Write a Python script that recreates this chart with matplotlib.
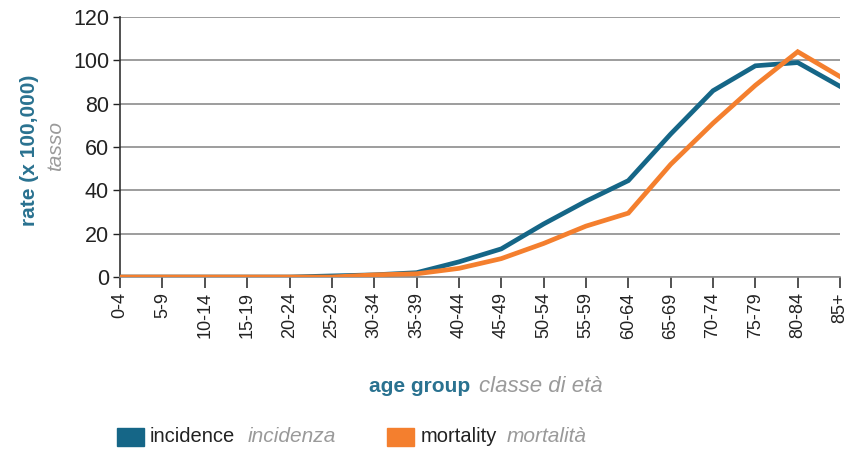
import numpy as np
import matplotlib.pyplot as plt
from matplotlib.patches import Rectangle

plt.rcParams['font.family'] = ['Liberation Sans', 'DejaVu Sans']

AGE_GROUPS = ['0-4', '5-9', '10-14', '15-19', '20-24', '25-29', '30-34', '35-39',
              '40-44', '45-49', '50-54', '55-59', '60-64', '65-69', '70-74',
              '75-79', '80-84', '85+']
incidence = [0, 0, 0, 0, 0, 0.5, 1, 2, 7, 13, 24.5, 35, 44.5, 66, 86, 97.5, 99, 88]
mortality = [0, 0, 0, 0, 0, 0, 1, 1.5, 4, 8.5, 15.5, 23.5, 29.5, 52, 71, 88.5, 104, 92.5]

BLUE = '#156687'
ORANGE = '#f47f2e'
TEAL = '#2a7290'
GREY = '#9a9a9a'

fig = plt.figure(figsize=(8.52, 4.49), dpi=100)
ax = fig.add_axes([0.141, 0.383, 0.845, 0.579])

x = np.arange(len(AGE_GROUPS))
ax.plot(x, incidence, color=BLUE, lw=3.4, solid_joinstyle='miter', zorder=3)
ax.plot(x, mortality, color=ORANGE, lw=3.4, solid_joinstyle='miter', zorder=4)

ax.set_xlim(0, len(AGE_GROUPS) - 1)
ax.set_ylim(0, 120)
ax.set_yticks(np.arange(0, 121, 20))
ax.set_xticks(x)
ax.set_xticklabels(AGE_GROUPS, rotation=90, fontsize=13, color='#222222')
ax.tick_params(axis='y', labelsize=15.5, colors='#222222', length=5, width=1, pad=3)
ax.tick_params(axis='x', length=8, width=1.2, color='#333333', pad=3)
ax.grid(axis='y', color='#8c8c8c', lw=1.2)
ax.set_axisbelow(True)
for s in ['top', 'right']:
    ax.spines[s].set_visible(False)
ax.spines['left'].set_color('#333333')
ax.spines['left'].set_linewidth(1.2)
ax.spines['bottom'].set_color('#8c8c8c')
ax.spines['bottom'].set_linewidth(1.2)

# axis titles
fig.text(30 / 852, 1 - 150 / 449, 'rate (x 100,000)', rotation=90, ha='center', va='center',
         fontsize=15, fontweight='bold', color=TEAL)
fig.text(56 / 852, 1 - 146 / 449, 'tasso', rotation=90, ha='center', va='center',
         fontsize=15, style='italic', color=GREY)
fig.text(470 / 852, 1 - 386 / 449, 'age group', ha='right', va='center',
         fontsize=15, fontweight='bold', color=TEAL)
fig.text(479 / 852, 1 - 386 / 449, 'classe di età', ha='left', va='center',
         fontsize=16, style='italic', color=GREY)

# legend
ly = 1 - 437 / 449
for px, col, lab, lab_it, tx, tx_it in [(117, BLUE, 'incidence', 'incidenza', 150, 248),
                                        (387, ORANGE, 'mortality', 'mortalità', 421, 507)]:
    fig.patches.append(Rectangle((px / 852, ly - 9 / 449), 27 / 852, 18 / 449,
                                 transform=fig.transFigure, color=col))
    fig.text(tx / 852, ly, lab, ha='left', va='center', fontsize=14.5, color='#222222')
    fig.text(tx_it / 852, ly, lab_it, ha='left', va='center', fontsize=15,
             style='italic', color=GREY)

fig.savefig('out.png', dpi=100)
